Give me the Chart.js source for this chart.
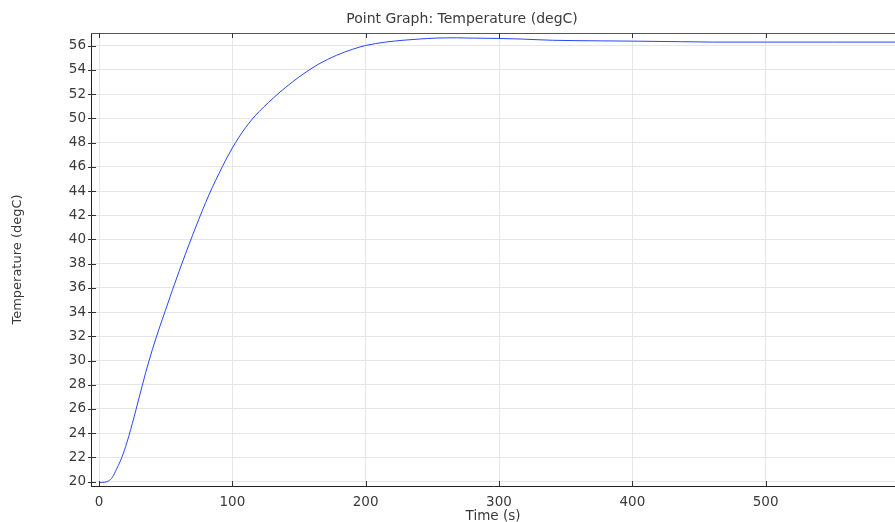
<!DOCTYPE html>
<html>
<head>
<meta charset="utf-8">
<script src="https://cdn.jsdelivr.net/npm/chart.js@4.4.1/dist/chart.umd.min.js"></script>
<style>
  body { margin: 0; background: #fff; }
  #wrap { width: 895px; height: 522px; }
</style>
</head>
<body>
<div id="wrap"><canvas id="chart" width="895" height="522"></canvas></div>
<script>
// time (s) and temperature (degC)
const times = [0, 4, 7, 10, 13, 16, 20, 25, 30, 35, 40, 45, 50, 55, 60, 65, 70, 75, 80, 85,
  90, 95, 100, 105, 110, 115, 120, 127, 135, 145, 153, 165, 178, 190, 200, 215, 228, 240,
  253, 268, 280, 300, 317, 340, 377, 400, 437, 460, 500, 550, 600];
const temps = [19.92, 19.95, 20.05, 20.35, 21.0, 21.7, 22.9, 24.8, 26.9, 29.0, 30.9, 32.6,
  34.2, 35.8, 37.35, 38.85, 40.3, 41.7, 43.05, 44.3, 45.45, 46.55, 47.55, 48.45, 49.25, 49.95,
  50.55, 51.3, 52.1, 53.0, 53.65, 54.5, 55.2, 55.7, 56.02, 56.3, 56.45, 56.55, 56.63, 56.65,
  56.63, 56.6, 56.55, 56.45, 56.4, 56.38, 56.33, 56.3, 56.3, 56.3, 56.3];

const xTicks = [0, 100, 200, 300, 400, 500];
const yTickStep = 2;

const points = times.map((t, i) => ({ x: t, y: temps[i] }));

const fontFam = "'DejaVu Sans', sans-serif";
const textCol = "#3a3a3a";

// frame on top + inward tick marks + title
const framePlugin = {
  id: "frame",
  afterDraw(chart) {
    const ctx = chart.ctx;
    const a = chart.chartArea;
    const xs = chart.scales.x, ys = chart.scales.y;
    ctx.save();
    ctx.strokeStyle = "#555";
    ctx.lineWidth = 1;
    ctx.beginPath();
    ctx.moveTo(a.left, a.top + 0.5);
    ctx.lineTo(a.right, a.top + 0.5);
    ctx.stroke();
    ctx.strokeStyle = "#333";
    ctx.beginPath();
    xs.ticks.forEach(t => {
      const px = Math.round(xs.getPixelForValue(t.value)) + 0.5;
      ctx.moveTo(px, a.bottom);
      ctx.lineTo(px, a.bottom - 5);
      ctx.moveTo(px, a.top);
      ctx.lineTo(px, a.top + 5);
    });
    ys.ticks.forEach(t => {
      const py = Math.round(ys.getPixelForValue(t.value)) + 0.5;
      ctx.moveTo(a.left - 3, py);
      ctx.lineTo(a.left + 5, py);
    });
    ctx.stroke();
    ctx.fillStyle = textCol;
    ctx.font = "14px " + fontFam;
    ctx.textAlign = "center";
    ctx.textBaseline = "middle";
    ctx.fillText("Point Graph: Temperature (degC)", 462, 19);
    ctx.restore();
  }
};

new Chart(document.getElementById("chart"), {
  type: "line",
  data: {
    datasets: [{
      label: "Temperature",
      data: points,
      borderColor: "rgb(40, 70, 245)",
      borderWidth: 1,
      pointRadius: 0,
      cubicInterpolationMode: "monotone",
      fill: false
    }]
  },
  options: {
    responsive: false,
    animation: false,
    layout: { padding: { top: 33, left: 0, right: 0, bottom: 0 } },
    plugins: {
      legend: { display: false },
      tooltip: { enabled: false }
    },
    scales: {
      x: {
        type: "linear",
        min: -6,
        max: 597,
        afterBuildTicks: s => { s.ticks = xTicks.map(v => ({ value: v })); },
        afterFit: s => { s.height = 36; },
        border: { display: true, color: "#222", width: 1 },
        grid: { color: "#e6e6e6", drawTicks: false },
        ticks: {
          padding: 8,
          maxRotation: 0,
          color: textCol,
          font: { family: fontFam, size: 13.5 }
        },
        title: {
          display: true,
          text: "Time (s)",
          color: textCol,
          font: { family: fontFam, size: 13.5 },
          padding: { top: 0, bottom: -3 }
        }
      },
      y: {
        min: 19.64,
        max: 57.05,
        afterFit: s => { s.width = 91; },
        border: { display: true, color: "#222", width: 1 },
        grid: { color: "#e6e6e6", drawTicks: false },
        ticks: {
          stepSize: yTickStep,
          includeBounds: false,
          padding: 5,
          color: textCol,
          font: { family: fontFam, size: 13.5 }
        },
        title: {
          display: true,
          text: "Temperature (degC)",
          color: textCol,
          font: { family: fontFam, size: 13 },
          padding: { top: 10, bottom: 0 }
        }
      }
    }
  },
  plugins: [framePlugin]
});
</script>
</body>
</html>
